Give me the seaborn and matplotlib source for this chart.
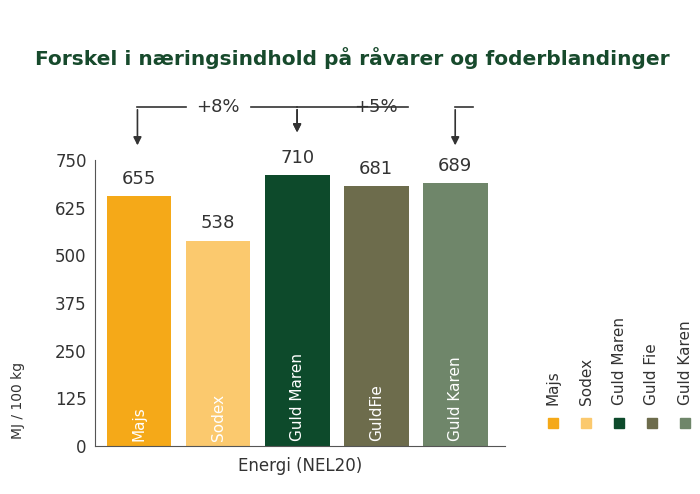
import matplotlib
matplotlib.use("Agg")
import matplotlib.pyplot as plt
import seaborn as sns
import pandas as pd
from matplotlib.patches import Rectangle

categories = ["Majs", "Sodex", "Guld Maren", "Guld Fie", "Guld Karen"]
bar_labels = ["Majs", "Sodex", "Guld Maren", "GuldFie", "Guld Karen"]
values = [655, 538, 710, 681, 689]
yticks = [0, 125, 250, 375, 500, 625, 750]
colors = ["#F5A918", "#FBC96E", "#0D4A2B", "#6D6C4C", "#6F866A"]
green = "#174A2C"
txt = "#333333"

df = pd.DataFrame({"cat": categories, "val": values})
fig = plt.figure(figsize=(7, 4.94), dpi=100)
ax = fig.add_axes([95/700, 1-446/494, 410/700, 286/494])
sns.barplot(data=df, x="cat", y="val", hue="cat", palette=colors, legend=False,
            width=0.82, saturation=1, ax=ax)
ax.set_xlim(-0.557, 4.63)
ax.set_ylim(0, 750)
ax.set_yticks(yticks)
ax.set_yticklabels([str(t) for t in yticks], fontsize=12, color=txt)
ax.set_xticks([])
ax.set_xlabel("Energi (NEL20)", fontsize=12, color=txt, labelpad=8)
ax.set_ylabel("")
fig.text(18/700, 1-400/494, "MJ / 100 kg", rotation=90, fontsize=10, color=txt, ha="center", va="center")
ax.tick_params(axis="y", length=0, pad=6)
for s in ["top", "right"]:
    ax.spines[s].set_visible(False)
for s in ["left", "bottom"]:
    ax.spines[s].set_color("#555555")

for i, (v, lab) in enumerate(zip(values, bar_labels)):
    ax.text(i, v + 22, str(v), ha="center", va="bottom", fontsize=13, color=txt)
    ax.text(i, 12, lab, rotation=90, ha="center", va="bottom", fontsize=11, color="white")

# arrows
yl = 889
kw = dict(color=txt, lw=1.2, clip_on=False)
def bracket(x0, x1, ytip):
    ax.plot([x0, x1], [yl, yl], **kw)
    ax.annotate("", xy=(x1, ytip), xytext=(x1, yl),
                arrowprops=dict(arrowstyle="-|>", color=txt, lw=1.2, mutation_scale=12),
                annotation_clip=False)
bracket(0.6, -0.02, 781)
bracket(1.42, 2.0, 815)
bracket(3.4, 2.0, 815)
bracket(4.22, 4.0, 781)
ax.text(1.0, yl, "+8%", ha="center", va="center", fontsize=13, color=txt)
ax.text(3.0, yl, "+5%", ha="center", va="center", fontsize=13, color=txt)

fig.text(35/700, 1-58/494, "Forskel i næringsindhold på råvarer og foderblandinger",
         fontsize=14.5, fontweight="bold", color=green, va="center")

# legend
for k, (c, lab) in enumerate(zip(colors, categories)):
    x = (553 + 33*k)/700
    fig.patches.append(Rectangle((x - 5/700, 1-428/494), 10/700, 10/494,
                                 transform=fig.transFigure, color=c))
    fig.text(x, 1-405/494, lab, rotation=90, ha="center", va="bottom", fontsize=11, color=txt)

fig.savefig("out.png", dpi=100)
